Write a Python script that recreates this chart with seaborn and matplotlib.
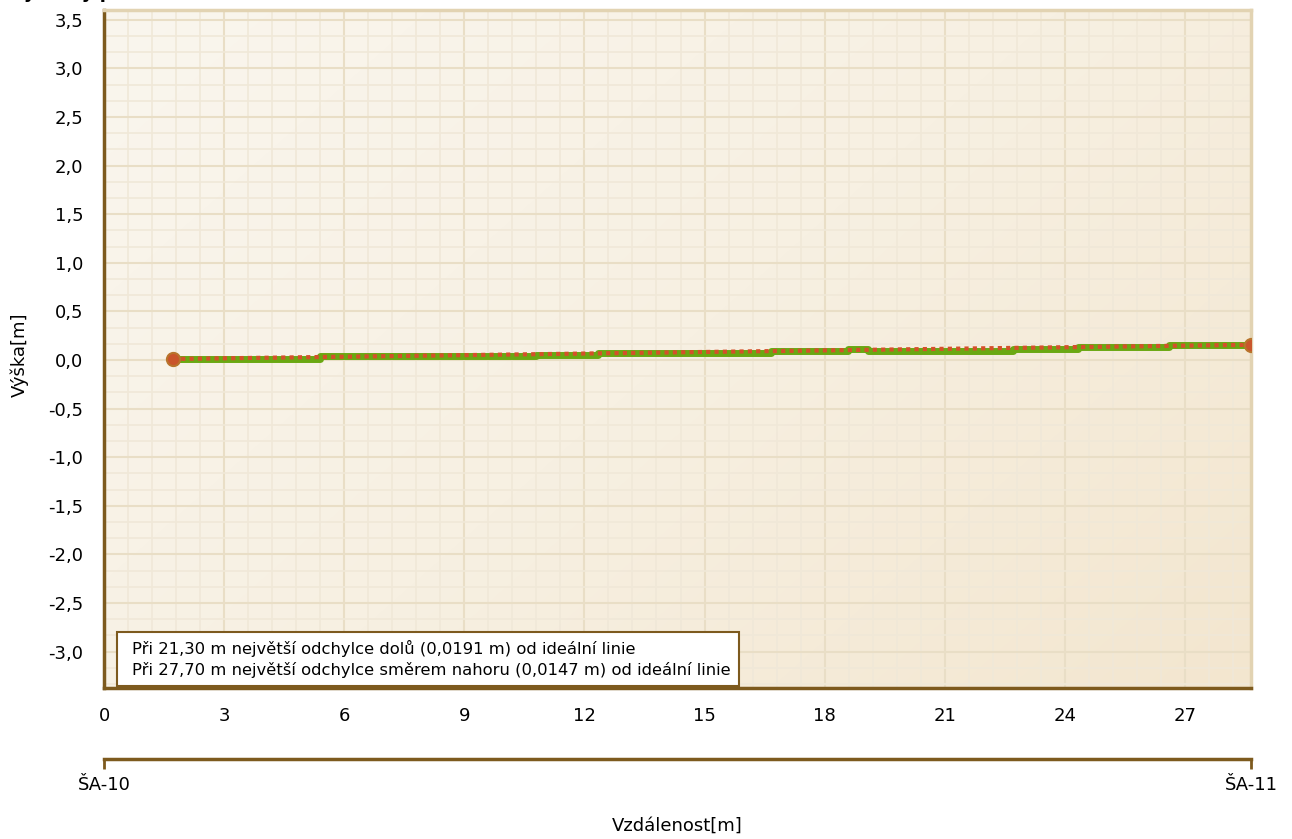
import numpy as np
import pandas as pd
import matplotlib.pyplot as plt
import matplotlib.ticker as mticker
from matplotlib.colors import LinearSegmentedColormap
from matplotlib.lines import Line2D
import seaborn as sns

# measured profile (step line) - distance [m], height [m]
dist = [1.72, 5.40, 10.78, 12.35, 16.65, 18.58, 19.08, 22.70, 24.33, 26.60, 28.65]
height = [0.010, 0.040, 0.052, 0.070, 0.093, 0.113, 0.096, 0.117, 0.137, 0.154, 0.156]

# ideal line between the two manholes
ideal_dist = [1.72, 28.65]
ideal_height = [0.010, 0.156]

x_ticks = [0, 3, 6, 9, 12, 15, 18, 21, 24, 27]
y_ticks = [-3.0, -2.5, -2.0, -1.5, -1.0, -0.5, 0.0, 0.5, 1.0, 1.5, 2.0, 2.5, 3.0, 3.5]
stations = ["ŠA-10", "ŠA-11"]
notes = [
    "Při 21,30 m největší odchylce dolů (0,0191 m) od ideální linie",
    "Při 27,70 m největší odchylce směrem nahoru (0,0147 m) od ideální linie",
]

sns.set_style("white")
plt.rcParams['font.family'] = ['DejaVu Sans']
plt.rcParams['text.color'] = 'black'

BROWN = '#7d5a1e'
W, H = 1292, 839

fig = plt.figure(figsize=(W / 100, H / 100), dpi=100)
ax = fig.add_axes([104 / W, 151 / H, 1147 / W, 678 / H])

# background gradient
cmap = LinearSegmentedColormap.from_list('bg', ['#faf6ee', '#f7f0e2', '#f3e6cf'])
gx, gy = np.meshgrid(np.linspace(0, 1, 200), np.linspace(0, 1, 200))
grad = 0.6 * gx + 0.4 * gy
ax.imshow(grad, cmap=cmap, extent=[0, 1, 0, 1], transform=ax.transAxes,
          aspect='auto', origin='upper', zorder=0, interpolation='bilinear')

df = pd.DataFrame({'dist': dist, 'height': height})
df_ideal = pd.DataFrame({'dist': ideal_dist, 'height': ideal_height})

sns.lineplot(data=df, x='dist', y='height', ax=ax, color='#6aa812', lw=5,
             drawstyle='steps-post', zorder=3)
sns.lineplot(data=df_ideal, x='dist', y='height', ax=ax, color='#d5502a', lw=3,
             linestyle=(0, (1, 1)), zorder=4)
sns.scatterplot(data=df_ideal, x='dist', y='height', ax=ax, s=90,
                color='#c9552b', edgecolor='#b8742c', linewidth=1.5, zorder=5)

ax.set_xlim(0, ideal_dist[-1])
ax.set_ylim(-3.375, 3.6)

ax.set_xticks(x_ticks)
ax.set_yticks(y_ticks)
ax.xaxis.set_minor_locator(mticker.MultipleLocator(0.6))
ax.yaxis.set_minor_locator(mticker.MultipleLocator(0.5 / 3))
ax.yaxis.set_major_formatter(mticker.FuncFormatter(lambda v, p: f"{v:.1f}".replace('.', ',')))
ax.xaxis.set_major_formatter(mticker.FuncFormatter(lambda v, p: f"{v:.0f}"))

ax.set_axisbelow(True)
ax.grid(which='major', color='#e9dec6', lw=1.5)
ax.grid(which='minor', color='#f0e8d8', lw=1.2)

ax.tick_params(which='major', direction='out', length=6, width=2, color=BROWN,
               labelsize=13, labelcolor='black')
ax.tick_params(which='minor', direction='out', length=3, width=1.5, color=BROWN)
ax.tick_params(axis='y', which='major', pad=9)
ax.tick_params(axis='x', which='major', pad=8)

for side in ['left', 'bottom']:
    ax.spines[side].set_color(BROWN)
    ax.spines[side].set_linewidth(2.5)
for side in ['top', 'right']:
    ax.spines[side].set_color('#e2d3b2')
    ax.spines[side].set_linewidth(2.5)

ax.set_xlabel('')
ax.set_ylabel('')

# station axis below
sec = ax.secondary_xaxis(-0.1047)
sec.set_xticks([0, ideal_dist[-1]])
sec.set_xticklabels(stations)
sec.xaxis.set_minor_locator(mticker.NullLocator())
sec.tick_params(direction='out', length=7, width=2, color=BROWN, labelsize=13,
                pad=5, labelcolor='black')
sec.spines['bottom'].set_color(BROWN)
sec.spines['bottom'].set_linewidth(2.5)

# deviation notes
handles = [Line2D([], [], linestyle='none') for _ in notes]
leg = ax.legend(handles, notes, loc='lower left', bbox_to_anchor=(0.0113, 0.003),
                handlelength=0, handletextpad=0.4, fontsize=11.8, borderpad=0.5,
                labelspacing=0.3, fancybox=False, framealpha=1, borderaxespad=0,
                labelcolor='black')
leg.get_frame().set_edgecolor(BROWN)
leg.get_frame().set_linewidth(1.5)

fig.text(20 / W, 1 - 355 / H, 'Výška[m]', rotation=90, ha='center', va='center', fontsize=13)
fig.text(677 / W, 1 - 826 / H, 'Vzdálenost[m]', ha='center', va='center', fontsize=13)
fig.text(10 / W, 1 + 1.5 / H, 'Výškový profil', ha='left', va='baseline',
         fontsize=13, fontweight='bold')

fig.savefig('out.png', dpi=100)
